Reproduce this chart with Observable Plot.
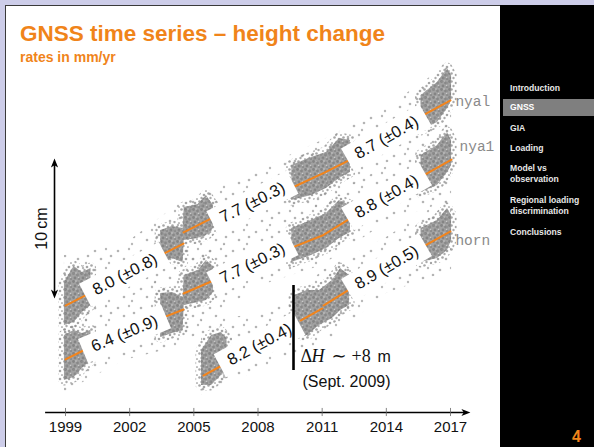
<!DOCTYPE html>
<html><head><meta charset="utf-8">
<script src="https://cdn.jsdelivr.net/npm/d3@7"></script>
<script src="https://cdn.jsdelivr.net/npm/@observablehq/plot@0.6"></script>
<style>
html,body{margin:0;padding:0;}
body{width:594px;height:447px;position:relative;overflow:hidden;background:#cdcde9;font-family:"Liberation Sans",Arial,sans-serif;}
#frame{position:absolute;left:5px;top:5px;width:495px;height:442px;background:#fff;border-top:1.5px solid #3a3a3a;border-left:1.5px solid #3a3a3a;box-sizing:border-box;}
#side{position:absolute;left:500px;top:5px;width:94px;height:442px;background:#000;}
#title{position:absolute;left:20px;top:22px;font-weight:bold;font-size:22.5px;color:#f0841a;white-space:nowrap;line-height:24px;}
#subtitle{position:absolute;left:20px;top:50px;font-weight:bold;font-size:14px;color:#f0841a;white-space:nowrap;line-height:14px;}
.nav{position:absolute;left:510px;font-weight:bold;font-size:8.6px;line-height:10px;color:#e8e8e8;white-space:nowrap;}
#hl{position:absolute;left:503px;top:99px;width:91px;height:17px;background:#7f7f7f;}
#page{position:absolute;left:572px;top:428px;font-weight:bold;font-size:16px;line-height:18px;color:#f0841a;}
#chart{position:absolute;left:0;top:0;}
</style></head>
<body>
<svg width="0" height="0" style="position:absolute">
<defs>
<pattern id="sparse" patternUnits="userSpaceOnUse" width="23" height="19">
<circle cx="3" cy="4" r="1.3" fill="#9a9a9a" fill-opacity="0.75"/>
<circle cx="14" cy="2" r="1.2" fill="#9a9a9a" fill-opacity="0.7"/>
<circle cx="9" cy="12" r="1.3" fill="#9a9a9a" fill-opacity="0.75"/>
<circle cx="19" cy="9" r="1.3" fill="#9a9a9a" fill-opacity="0.75"/>
<circle cx="17" cy="16" r="1.2" fill="#9a9a9a" fill-opacity="0.7"/>
</pattern>
<pattern id="medium" patternUnits="userSpaceOnUse" width="9" height="8">
<circle cx="1.5" cy="1.5" r="1.3" fill="#909090" fill-opacity="0.8"/>
<circle cx="6" cy="3" r="1.3" fill="#909090" fill-opacity="0.8"/>
<circle cx="3.5" cy="6" r="1.2" fill="#909090" fill-opacity="0.75"/>
<circle cx="8" cy="7" r="1.1" fill="#909090" fill-opacity="0.6"/>
</pattern>
<pattern id="dense" patternUnits="userSpaceOnUse" width="8" height="8">
<rect width="8" height="8" fill="#a2a2a2"/>
<circle cx="1.5" cy="1.5" r="1.4" fill="#848484"/>
<circle cx="5.5" cy="3" r="1.4" fill="#888888"/>
<circle cx="3" cy="6" r="1.4" fill="#848484"/>
<circle cx="7" cy="7" r="1.2" fill="#8c8c8c"/>
<circle cx="4" cy="1" r="0.7" fill="#cfcfcf"/>
<circle cx="6.5" cy="5.5" r="0.7" fill="#cacaca"/>
</pattern>
</defs>
</svg>
<div id="frame"></div>
<div id="side"></div>
<div id="hl"></div>
<div id="title">GNSS time series – height change</div>
<div id="subtitle">rates in mm/yr</div>
<div class="nav" style="top:83px">Introduction</div>
<div class="nav" style="top:102px;color:#fff">GNSS</div>
<div class="nav" style="top:123px">GIA</div>
<div class="nav" style="top:143px">Loading</div>
<div class="nav" style="top:163px">Model vs</div>
<div class="nav" style="top:174px">observation</div>
<div class="nav" style="top:195px">Regional loading</div>
<div class="nav" style="top:206px">discrimination</div>
<div class="nav" style="top:227px">Conclusions</div>
<div id="page">4</div>
<div id="chart"></div>
<script>
// ---- data (years, heights in mm) ----
const tickYears = [1999, 2002, 2005, 2008, 2011, 2014, 2017];
const stationNames = ["nyal", "nya1", "horn"];
const nameYear = [2017.23, 2017.42, 2017.23];
const nameHeight = [222.1, 190, 122.9];

// dense part of the visible point clouds: [year, upper mm, lower mm, cluster]
const nyalDense = [[1998.95,92.9,62.1,0],[1999.40,104.3,64.3,0],[1999.79,100,71.4,0],[2000.19,102.9,76.4,0],
  [2003.45,130,107.1,1],[2004.0,132.9,110,1],[2004.50,131.4,107.1,1],
  [2004.55,146.4,122.9,1],[2005.2,148.6,124.3,1],[2005.59,155,126.4,1],[2005.92,147.9,131.4,1],
  [2009.58,176.4,151.4,2],[2010.50,182.1,155,2],[2011.20,185.7,160,2],[2011.81,195.7,167.1,2],[2012.32,194.3,171.4,2],
  [2015.62,226.4,201.4,3],[2016.39,235.7,207.1,3],[2016.86,245.7,217.1,3],[2017.05,240.7,222.9,3]];
const nya1Dense = [[1998.95,55,22.9,0],[1999.40,58.6,25,0],[1999.79,56.4,31.4,0],[2000.19,58.6,37.1,0],
  [2003.45,85,53.6,1],[2004.0,85.7,56.4,1],[2004.50,82.1,58.6,1],
  [2004.55,97.9,76.4,1],[2005.2,101.4,78.6,1],[2005.59,108.6,80,1],[2005.92,104.3,85.7,1],
  [2009.58,131.4,107.1,2],[2010.50,137.1,112.1,2],[2011.20,142.1,117.1,2],[2011.81,151.4,124.3,2],[2012.32,147.9,128.6,2],
  [2015.62,183.6,157.1,3],[2016.39,190.7,162.1,3],[2016.86,200,171.4,3],[2017.05,194.3,176.4,3]];
const hornDense = [[2005.36,44.3,19.3,0],[2005.83,55,19.3,0],[2006.29,57.1,26.4,0],[2006.55,52.9,28.6,0],
  [2009.71,83.6,55,1],[2010.31,87.1,55,1],[2010.87,87.1,62.1,1],[2011.48,94.3,67.1,1],[2011.86,102.9,72.9,1],[2012.28,97.9,76.4,1],
  [2015.62,131.4,107.1,2],[2016.39,137.1,110,2],[2016.86,145.7,115.7,2],[2017.05,140.7,122.9,2]];

// sparse outliers around each series: [year, upper mm, lower mm]
const nyalSparse = [[1998.95,112.1,55],[2001.76,120,80],[2004.52,151.4,101.4],[2007.74,171.4,131.4],[2011.01,194.3,147.9],[2014.01,217.9,177.9],[2017.05,250,201.4]];
const nya1Sparse = [[1998.95,69.3,14.3],[2001.76,77.9,37.1],[2004.52,107.1,47.9],[2007.74,128.6,88.6],[2011.01,151.4,105],[2014.01,175.7,135.7],[2017.05,207.1,151.4]];
const hornSparse = [[2005.36,65.7,12.1],[2008.07,70,30],[2009.66,80,40.7],[2011.01,101.4,47.9],[2014.01,125,85],[2017.05,155,101.4]];

// fitted trend segments: [year, mm]
const nyalTrend = [[[1999.0,76.4],[2000.03,84.3]],[[2003.53,112.9],[2004.52,120.7]],[[2004.52,128.6],[2005.92,139.3]],[[2009.61,160.7],[2011.11,171.4],[2012.32,180.7]],[[2015.69,212.1],[2017.0,222.9]]];
const nya1Trend = [[[1999.0,37.9],[1999.93,45.0]],[[2003.58,67.9],[2004.52,73.6]],[[2004.52,85.0],[2005.92,94.3]],[[2009.61,117.9],[2011.01,126.4],[2012.32,138.6]],[[2015.74,169.3],[2017.05,180.7]]];
const hornTrend = [[[2005.45,26.4],[2006.48,35.0]],[[2009.99,65.7],[2011.01,74.3]],[[2011.06,76.4],[2012.28,87.9]],[[2015.74,118.6],[2017.0,129.3]]];

// rate labels (mm/yr)
const rateText = ["8.0 (±0.8)","6.4 (±0.9)","7.7 (±0.3)","7.7 (±0.3)","8.7 (±0.4)","8.8 (±0.4)","8.2 (±0.4)","8.9 (±0.5)"];
const rateValue = [8.0, 6.4, 7.7, 7.7, 8.7, 8.8, 8.2, 8.9];
const rateYear = [2001.78, 2001.76, 2007.74, 2007.74, 2014.01, 2014.01, 2008.07, 2014.01];
const rateHeight = [98.6, 56.4, 150, 106.4, 196.4, 154.3, 48.6, 103.6];

// antenna jump at horn (Sept. 2009) and scale bar
const jumpYear = 2009.66;
const jumpSpan = [30, 90.7];
const scaleBar = [81.4, 181.4]; // 10 cm

// ---- scales ----
const xDomain = [1999, 2017], xRange = [65, 450];
const yDomain = [0, 250], yRange = [412, 62];
const pxPerYear = (xRange[1] - xRange[0]) / (xDomain[1] - xDomain[0]);
const pxPerMm = (yRange[0] - yRange[1]) / (yDomain[1] - yDomain[0]);
const angleOf = r => Math.atan(r * pxPerMm / pxPerYear) * 180 / Math.PI;

const orange = "#f2841c";

const boxSymbol = (deg, W, H) => ({draw(ctx) {
  const a = deg * Math.PI / 180, c = Math.cos(a), s = Math.sin(a);
  const p = [[-W/2,-H/2],[W/2,-H/2],[W/2,H/2],[-W/2,H/2]].map(([x,y]) => [x*c - y*s, x*s + y*c]);
  ctx.moveTo(p[0][0], p[0][1]);
  for (let i = 1; i < 4; i++) ctx.lineTo(p[i][0], p[i][1]);
  ctx.closePath();
}});
const headSymbol = (ux, uy) => ({draw(ctx) {
  const px = -uy, py = ux, L = 9, w = 3.6, n = 2.4;
  ctx.moveTo(0, 0);
  ctx.lineTo(-ux*L + px*w, -uy*L + py*w);
  ctx.lineTo(-ux*(L-n), -uy*(L-n));
  ctx.lineTo(-ux*L - px*w, -uy*L - py*w);
  ctx.closePath();
}});

const trendRows = [];
[nyalTrend, nya1Trend, hornTrend].forEach((st, si) => st.forEach((seg, k) =>
  seg.forEach(([x, y]) => trendRows.push({x, y, seg: si + "-" + k}))));

const sparse = data => Plot.areaY(data, {x: d => d[0], y1: d => d[2], y2: d => d[1], fill: "url(#sparse)", curve: "linear"});
const dense = data => Plot.areaY(data, {x: d => d[0], y1: d => d[2], y2: d => d[1], z: d => d[3], fill: "url(#dense)", stroke: "url(#medium)", strokeWidth: 11, strokeLinejoin: "round", curve: "linear"});

const idx = d3.range(rateText.length);

const marks = [
  sparse(nyalSparse), sparse(nya1Sparse), sparse(hornSparse),
  dense(nyalDense), dense(nya1Dense), dense(hornDense),
  Plot.line(trendRows, {x: "x", y: "y", z: "seg", stroke: orange, strokeWidth: 2}),
  idx.map(i => Plot.dot([i], {x: i => rateYear[i], y: i => rateHeight[i], symbol: boxSymbol(-angleOf(rateValue[i]), 90, 26), fill: "white", stroke: "none"})),
  Plot.text(idx, {x: i => rateYear[i], y: i => rateHeight[i], text: i => rateText[i], rotate: i => -angleOf(rateValue[i]), fontSize: 16.5, fill: "#111", fontFamily: "Liberation Sans"}),
  Plot.text(d3.range(3), {x: i => nameYear[i], y: i => nameHeight[i], text: i => stationNames[i], textAnchor: "start", fontFamily: "Liberation Mono", fontSize: 14.5, fill: "#8a8a8a"}),
  // jump marker
  Plot.ruleX([jumpYear], {y1: jumpSpan[0], y2: jumpSpan[1], stroke: "black", strokeWidth: 2.6}),
  Plot.text(["Δ"], {x: 2009.99, y: 40, textAnchor: "start", fontFamily: "Liberation Serif", fontSize: 18, fill: "#111"}),
  Plot.text(["H"], {x: 2009.99, y: 40, dx: 11, textAnchor: "start", fontFamily: "Liberation Serif", fontStyle: "italic", fontSize: 18, fill: "#111"}),
  Plot.text(["∼"], {x: 2009.99, y: 40, dx: 31, textAnchor: "start", fontFamily: "DejaVu Sans", fontSize: 18, fill: "#111"}),
  Plot.text(["+8"], {x: 2009.99, y: 40, dx: 51, textAnchor: "start", fontFamily: "Liberation Serif", fontSize: 18, fill: "#111"}),
  Plot.text(["m"], {x: 2009.99, y: 40, dx: 77, textAnchor: "start", fontFamily: "Liberation Sans", fontSize: 16, fill: "#111"}),
  Plot.text(["(Sept. 2009)"], {x: 2010.08, y: 22.1, textAnchor: "start", fontFamily: "Liberation Sans", fontSize: 16, fill: "#111"}),
  // 10 cm scale bar
  Plot.ruleX([1998.486], {y1: scaleBar[0] + 4, y2: scaleBar[1] - 4, stroke: "black", strokeWidth: 1.6}),
  Plot.dot([scaleBar[1]], {x: 1998.486, y: d => d, symbol: headSymbol(0, -1), fill: "black", stroke: "none"}),
  Plot.dot([scaleBar[0]], {x: 1998.486, y: d => d, symbol: headSymbol(0, 1), fill: "black", stroke: "none"}),
  Plot.text(["10\u2009cm"], {x: 1997.88, y: (scaleBar[0] + scaleBar[1]) / 2, rotate: -90, fontSize: 16, fontFamily: "Liberation Sans", fill: "#111"}),
  // time axis
  Plot.ruleY([0], {x1: 1998.07, x2: 2017.7, stroke: "black", strokeWidth: 1.6}),
  Plot.dot([0], {x: 2017.93, y: 0, symbol: headSymbol(1, 0), fill: "black", stroke: "none"}),
  Plot.ruleX(tickYears, {y1: -2.9, y2: 2.9, stroke: "#666", strokeWidth: 0.8}),
  Plot.text(tickYears, {x: d => d, y: 0, dy: 15, text: d => String(d), fontSize: 15, fontFamily: "Liberation Sans", fill: "#111"})
];

const chart = Plot.plot({
  width: 500, height: 447,
  x: {domain: xDomain, range: xRange, axis: null},
  y: {domain: yDomain, range: yRange, axis: null},
  style: {background: "transparent", overflow: "visible"},
  marks
});
document.getElementById("chart").append(chart);
</script>
</body></html>
